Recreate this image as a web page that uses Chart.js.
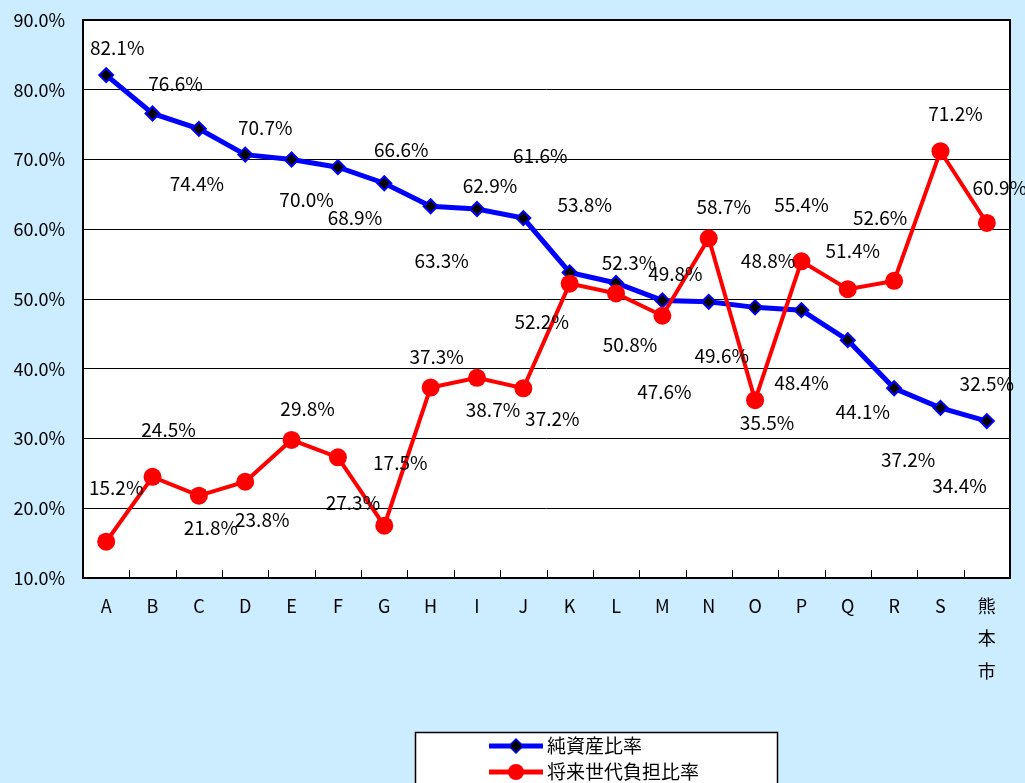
<!DOCTYPE html>
<html>
<head>
<meta charset="utf-8">
<script src="https://cdn.jsdelivr.net/npm/chart.js@4/dist/chart.umd.min.js"></script>
<style>
  html, body { margin: 0; padding: 0; background: #CCECFF; }
  canvas { display: block; }
</style>
</head>
<body>
<canvas id="grafico" width="1025" height="783"></canvas>
<script>
// categorías y valores
const categorias = ['A', 'B', 'C', 'D', 'E', 'F', 'G', 'H', 'I', 'J', 'K', 'L', 'M', 'N', 'O', 'P', 'Q', 'R', 'S', ['熊', '本', '市']];
const nombreSerie1 = '純資産比率';
const nombreSerie2 = '将来世代負担比率';
const netoActivos = [82.1, 76.6, 74.4, 70.7, 70.0, 68.9, 66.6, 63.3, 62.9, 61.6, 53.8, 52.3, 49.8, 49.6, 48.8, 48.4, 44.1, 37.2, 34.4, 32.5];
const cargaFutura = [15.2, 24.5, 21.8, 23.8, 29.8, 27.3, 17.5, 37.3, 38.7, 37.2, 52.2, 50.8, 47.6, 58.7, 35.5, 55.4, 51.4, 52.6, 71.2, 60.9];
const ticksY = [10, 20, 30, 40, 50, 60, 70, 80, 90];

// desplazamiento de las etiquetas respecto a cada punto (px)
const offsetsAzul = [[11,-27],[23,-30],[-2,55],[20,-27],[15,40],[17,51],[17,-33],[11,55],[13,-23],[17,-62],
                     [15,-68],[13,-20],[13,-27],[13,54],[13,-47],[0,73],[15,72],[14,72],[19,78],[0,-37]];
const offsetsRojo = [[10,-54],[16,-47],[12,32],[17,38],[16,-31],[15,45],[16,-63],[6,-31],[16,32],[29,31],
                     [-28,38],[14,51],[2,76],[15,-32],[12,23],[0,-57],[5,-38],[-14,-63],[15,-37],[13,-35]];

const FUENTE = '"Noto Sans CJK JP", "Noto Sans", sans-serif';

const fondoPlot = {
  id: 'fondoPlot',
  beforeDraw(chart) {
    const { ctx, chartArea: a } = chart;
    ctx.save();
    ctx.fillStyle = '#FFFFFF';
    ctx.fillRect(a.left, a.top, a.right - a.left, a.bottom - a.top);
    ctx.restore();
  },
  beforeDatasetsDraw(chart) {
    const { ctx, chartArea: a } = chart;
    const x = chart.scales.x;
    ctx.save();
    // marco del área
    ctx.strokeStyle = '#000000';
    ctx.lineWidth = 2;
    ctx.strokeRect(a.left, a.top, a.right - a.left, a.bottom - a.top);
    // marcas entre categorías
    ctx.lineWidth = 1;
    for (let i = 0; i < categorias.length - 1; i++) {
      const px = Math.round((x.getPixelForValue(i) + x.getPixelForValue(i + 1)) / 2) + 0.5;
      ctx.beginPath();
      ctx.moveTo(px, a.bottom);
      ctx.lineTo(px, a.bottom - 8);
      ctx.stroke();
    }
    ctx.restore();
  }
};

const etiquetas = {
  id: 'etiquetas',
  afterDatasetsDraw(chart) {
    const { ctx } = chart;
    ctx.save();
    ctx.font = '19px ' + FUENTE;
    ctx.fillStyle = '#000000';
    ctx.textAlign = 'center';
    ctx.textBaseline = 'middle';
    const pares = [[0, offsetsRojo], [1, offsetsAzul]];
    pares.forEach(([idx, offs]) => {
      const meta = chart.getDatasetMeta(idx);
      meta.data.forEach((p, i) => {
        const v = chart.data.datasets[idx].data[i];
        ctx.fillText(v.toFixed(1) + '%', p.x + offs[i][0], p.y + offs[i][1]);
      });
    });
    ctx.restore();
  }
};

const leyenda = {
  id: 'leyenda',
  afterDraw(chart) {
    const { ctx } = chart;
    ctx.save();
    ctx.fillStyle = '#FFFFFF';
    ctx.fillRect(415, 732, 362, 60);
    ctx.strokeStyle = '#000000';
    ctx.lineWidth = 1.5;
    ctx.strokeRect(415.5, 732.5, 362, 60);
    // serie azul
    ctx.strokeStyle = '#0000FF';
    ctx.lineWidth = 5;
    ctx.beginPath(); ctx.moveTo(489, 746); ctx.lineTo(543, 746); ctx.stroke();
    ctx.fillStyle = '#000000';
    ctx.lineWidth = 1.5;
    ctx.beginPath();
    ctx.moveTo(516, 739); ctx.lineTo(523, 746); ctx.lineTo(516, 753); ctx.lineTo(509, 746); ctx.closePath();
    ctx.fill(); ctx.stroke();
    // serie roja
    ctx.strokeStyle = '#FF0000';
    ctx.lineWidth = 5;
    ctx.beginPath(); ctx.moveTo(489, 772); ctx.lineTo(543, 772); ctx.stroke();
    ctx.fillStyle = '#FF0000';
    ctx.beginPath(); ctx.arc(516, 772, 8, 0, Math.PI * 2); ctx.fill();
    ctx.fillStyle = '#000000';
    ctx.font = '19px ' + FUENTE;
    ctx.textBaseline = 'middle';
    ctx.textAlign = 'left';
    ctx.fillText(nombreSerie1, 547, 746);
    ctx.fillText(nombreSerie2, 547, 772);
    ctx.restore();
  }
};

new Chart(document.getElementById('grafico'), {
  type: 'line',
  data: {
    labels: categorias,
    datasets: [
      {
        label: nombreSerie2,
        data: cargaFutura,
        borderColor: '#FF0000',
        backgroundColor: '#FF0000',
        borderWidth: 4,
        pointStyle: 'circle',
        pointRadius: 9,
        pointBorderWidth: 0,
        pointBackgroundColor: '#FF0000',
        tension: 0,
        order: 0
      },
      {
        label: nombreSerie1,
        data: netoActivos,
        borderColor: '#0000FF',
        backgroundColor: '#000000',
        borderWidth: 5,
        pointStyle: 'rectRot',
        pointRadius: 7,
        pointBorderWidth: 2,
        pointBorderColor: '#0000FF',
        pointBackgroundColor: '#000000',
        tension: 0,
        order: 1
      }
    ]
  },
  options: {
    responsive: false,
    animation: false,
    events: [],
    layout: { padding: { left: 0, right: 15, top: 20, bottom: 0 } },
    plugins: {
      legend: { display: false },
      tooltip: { enabled: false }
    },
    scales: {
      x: {
        offset: true,
        grid: { display: false, drawTicks: false },
        border: { display: false },
        ticks: {
          color: '#000000',
          font: { family: FUENTE, size: 18, lineHeight: 1.8 },
          padding: 12,
          maxRotation: 0,
          autoSkip: false
        },
        afterFit(scale) { scale.height = 205; }
      },
      y: {
        min: 10,
        max: 90,
        afterBuildTicks(scale) { scale.ticks = ticksY.map(v => ({ value: v })); },
        grid: { color: '#000000', lineWidth: 1, drawTicks: false },
        border: { display: false },
        ticks: {
          color: '#000000',
          font: { family: FUENTE, size: 18 },
          padding: 18,
          callback: v => v.toFixed(1) + '%'
        },
        afterFit(scale) {
          scale.width = 83;
          scale.paddingTop = 0;
          scale.paddingBottom = 0;
        }
      }
    }
  },
  plugins: [fondoPlot, etiquetas, leyenda]
});
</script>
</body>
</html>
